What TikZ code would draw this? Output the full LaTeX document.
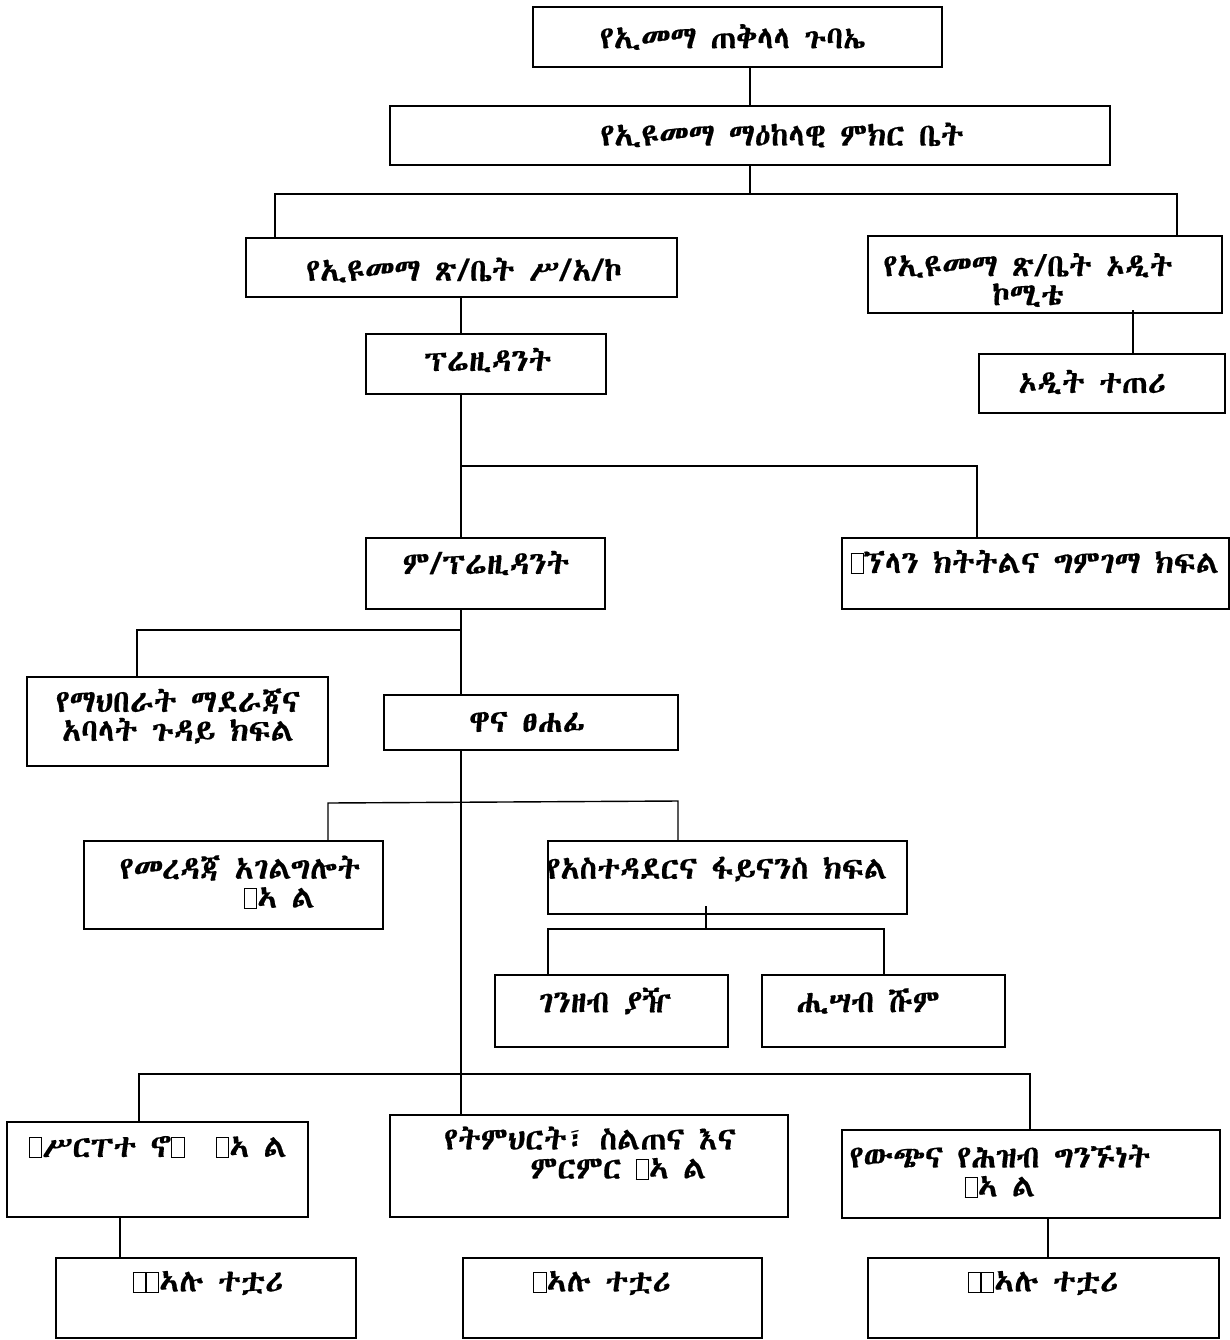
\documentclass[tikz,border=0pt]{standalone}
\usepackage{fontspec}
\setmainfont[FakeBold=0.4]{Abyssinica SIL}
\usetikzlibrary{fit}
\newcommand\mbx{{\setlength\fboxsep{0pt}\setlength\fboxrule{0.5pt}\fbox{\rule{0pt}{0.6em}\hspace{0.36em}}}}
\tikzset{
  box/.style={draw=black, line width=1.1pt, inner sep=0pt},
  conn/.style={draw=black, line width=0.8pt},
  txt/.style={inner sep=0pt, align=center, font=\fontsize{18}{16.5}\selectfont}
}
\newcommand\bx[5]{\node[box, fit={(#2,#3) (#4,#5)}] (#1) {};}
\begin{document}
\begin{tikzpicture}[x=0.02cm, y=-0.02cm]
\useasboundingbox (0,0) rectangle (1230,1340);
% boxes
\bx{b1}{533}{7}{942}{67}
\bx{b2}{390}{106}{1110}{165}
\bx{b3}{246}{238}{677}{297}
\bx{b4}{868}{236}{1222}{313}
\bx{b5}{979}{354}{1225}{413}
\bx{b6}{366}{334}{606}{394}
\bx{b7}{366}{538}{605}{609}
\bx{b8}{842}{538}{1229}{609}
\bx{b10}{27}{677}{328}{766}
\bx{b9}{384}{695}{678}{750}
\bx{b11}{84}{841}{383}{929}
\bx{b12}{548}{841}{907}{914}
\bx{b13}{495}{975}{728}{1047}
\bx{b14}{762}{975}{1005}{1047}
\bx{b15}{7}{1122}{308}{1217}
\bx{b16}{390}{1115}{788}{1217}
\bx{b17}{842}{1130}{1220}{1218}
\bx{b18}{56}{1258}{356}{1338}
\bx{b19}{463}{1258}{762}{1338}
\bx{b20}{868}{1258}{1219}{1338}
% texts
\node[txt] (t1) at (733,37) {የኢመማ ጠቅላላ ጉባኤ};
\node[txt] (t2) at (782,135) {የኢዩመማ ማዕከላዊ ምክር ቤት};
\node[txt] (t3) at (464,270) {የኢዩመማ ጽ/ቤት ሥ/አ/ኮ};
\node[txt] (t4) at (1028,280) {የኢዩመማ ጽ/ቤት ኦዲት\\ኮሚቴ};
\node[txt] (t5) at (1092,382) {ኦዲት ተጠሪ};
\node[txt] (t6) at (488,360) {ፕሬዚዳንት};
\node[txt] (t7) at (486,563) {ም/ፕሬዚዳንት};
\node[txt] (t8) at (1035,562) {\mbx ኘላን ክትትልና ግምገማ ክፍል};
\node[txt] (t10) at (178,716) {የማህበራት ማደራጃና\\አባላት ጉዳይ ክፍል};
\node[txt] (t9) at (527,722) {ዋና ፀሐፊ};
\node[txt] (t11) at (240,882) {የመረዳጃ አገልግሎት\\\hspace*{2.5em}\mbx ኣ ል};
\node[txt] (t12) at (717,869) {የአስተዳደርና ፋይናንስ ክፍል};
\node[txt] (t13) at (605,1001) {ገንዘብ ያዥ};
\node[txt] (t14) at (868,1001) {ሒሣብ ሹም};
\node[txt] (t15) at (158,1147) {\mbx ሥርፐተ ኖ\mbx\quad\mbx ኣ ል};
\node[txt] (t16) at (590,1153) {የትምህርት፣ ስልጠና እና\\\hspace*{1.8em}ምርምር \mbx ኣ ል};
\node[txt] (t17) at (1000,1171) {የውጭና የሕዝብ ግንኙነት\\\mbx ኣ ል};
\node[txt] (t18) at (208,1283) {\mbx\mbx ኣሉ ተቷሪ};
\node[txt] (t19) at (602,1283) {\mbx ኣሉ ተቷሪ};
\node[txt] (t20) at (1043,1283) {\mbx\mbx ኣሉ ተቷሪ};
% connector coordinates
\coordinate (c750) at (750,0);
\coordinate (hL) at (275,194);
\coordinate (hR) at (1177,194);
\coordinate (c1133) at (1133,310);
\coordinate (tr) at (461,0);
\coordinate (h2) at (977,466);
\coordinate (h3) at (137,630);
\coordinate (h4l) at (328,803);
\coordinate (h4r) at (678,801);
\coordinate (c706) at (706,906);
\coordinate (h5l) at (548,929);
\coordinate (h5r) at (884,929);
\coordinate (h6l) at (139,1074);
\coordinate (h6r) at (1030,1074);
\coordinate (c120) at (120,0);
\coordinate (c1048) at (1048,0);
% connectors
\draw[conn] (b1.south -| c750) -- (b2.north -| c750);
\draw[conn] (b2.south -| c750) -- (c750 |- hL);
\draw[conn] (b3.north -| hL) -- (hL) -- (hR) -- (b4.north -| hR);
\draw[conn] (c1133) -- (b5.north -| c1133);
\draw[conn] (b3.south -| tr) -- (b6.north -| tr);
\draw[conn] (b6.south -| tr) -- (b7.north -| tr);
\draw[conn] (tr |- h2) -- (h2) -- (b8.north -| h2);
\draw[conn] (b7.south -| tr) -- (b9.north -| tr);
\draw[conn] (tr |- h3) -- (h3) -- (b10.north -| h3);
\draw[conn] (b9.south -| tr) -- (b16.north -| tr);
\draw[conn] (b11.north -| h4l) -- (h4l) -- (h4r) -- (b12.north -| h4r);
\draw[conn] (c706) -- (c706 |- h5l);
\draw[conn] (b13.north -| h5l) -- (h5l) -- (h5r) -- (b14.north -| h5r);
\draw[conn] (b15.north -| h6l) -- (h6l) -- (h6r) -- (b17.north -| h6r);
\draw[conn] (b15.south -| c120) -- (b18.north -| c120);
\draw[conn] (b17.south -| c1048) -- (b20.north -| c1048);
\end{tikzpicture}
\end{document}
